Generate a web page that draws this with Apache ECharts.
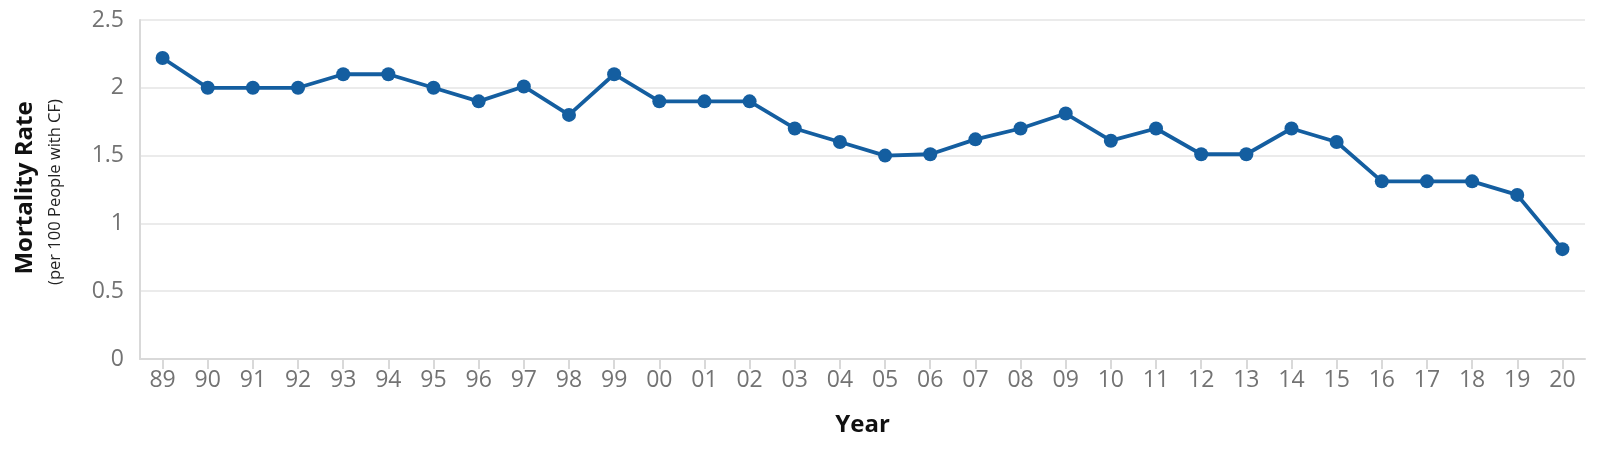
<!DOCTYPE html>
<html>
<head>
<meta charset="utf-8">
<script src="https://cdn.jsdelivr.net/npm/echarts@6/dist/echarts.min.js"></script>
<style>html,body{margin:0;padding:0;background:#fff}#c{width:1602px;height:464px}</style>
</head>
<body>
<div id="c"></div>
<script>
const years = ['89','90','91','92','93','94','95','96','97','98','99','00','01','02','03','04','05','06','07','08','09','10','11','12','13','14','15','16','17','18','19','20'];
const mortality = [2.22,2.0,2.0,2.0,2.1,2.1,2.0,1.9,2.01,1.8,2.1,1.9,1.9,1.9,1.7,1.6,1.5,1.51,1.62,1.7,1.81,1.61,1.7,1.51,1.51,1.7,1.6,1.31,1.31,1.31,1.21,0.81];
const yTicks = {min:0, max:2.5, interval:0.5};
const yTitle = 'Mortality Rate';
const ySubtitle = '(per 100 People with CF)';
const xTitle = 'Year';

const chart = echarts.init(document.getElementById('c'), null, {renderer:'canvas'});
const F = '"Open Sans", Lato, sans-serif';
chart.setOption({
  animation:false,
  grid:{left:140, right:17, top:20, bottom:105, containLabel:false},
  xAxis:{
    type:'category', data:years, boundaryGap:true,
    name:xTitle, nameLocation:'middle', nameGap:54,
    nameTextStyle:{fontFamily:F, fontWeight:'bold', fontSize:24, color:'#111'},
    axisLine:{lineStyle:{color:'#d9d9d9', width:2}},
    axisTick:{show:true, alignWithLabel:true, length:10, lineStyle:{color:'#d9d9d9', width:2}},
    axisLabel:{margin:10, fontFamily:F, fontSize:23, fontWeight:500, color:'#737373'},
    splitLine:{show:false}
  },
  yAxis:{
    type:'value', min:yTicks.min, max:yTicks.max, interval:yTicks.interval,
    axisLine:{show:true, lineStyle:{color:'#d9d9d9', width:2}},
    axisTick:{show:false},
    axisLabel:{margin:16, fontFamily:F, fontSize:23, fontWeight:500, color:'#737373'},
    splitLine:{lineStyle:{color:'#ebebeb', width:2}}
  },
  graphic:[
    {type:'text', x:25, y:188, rotation:Math.PI/2,
     style:{text:yTitle, fontFamily:F, fontWeight:'bold', fontSize:24, fill:'#111', align:'center', verticalAlign:'middle'}},
    {type:'text', x:55, y:192, rotation:Math.PI/2,
     style:{text:ySubtitle, fontFamily:F, fontSize:16.5, fill:'#222', align:'center', verticalAlign:'middle'}}
  ],
  series:[{
    type:'line', data:mortality,
    symbol:'circle', symbolSize:14,
    lineStyle:{color:'#145ea0', width:3.8},
    itemStyle:{color:'#145ea0'}
  }]
});
</script>
</body>
</html>
